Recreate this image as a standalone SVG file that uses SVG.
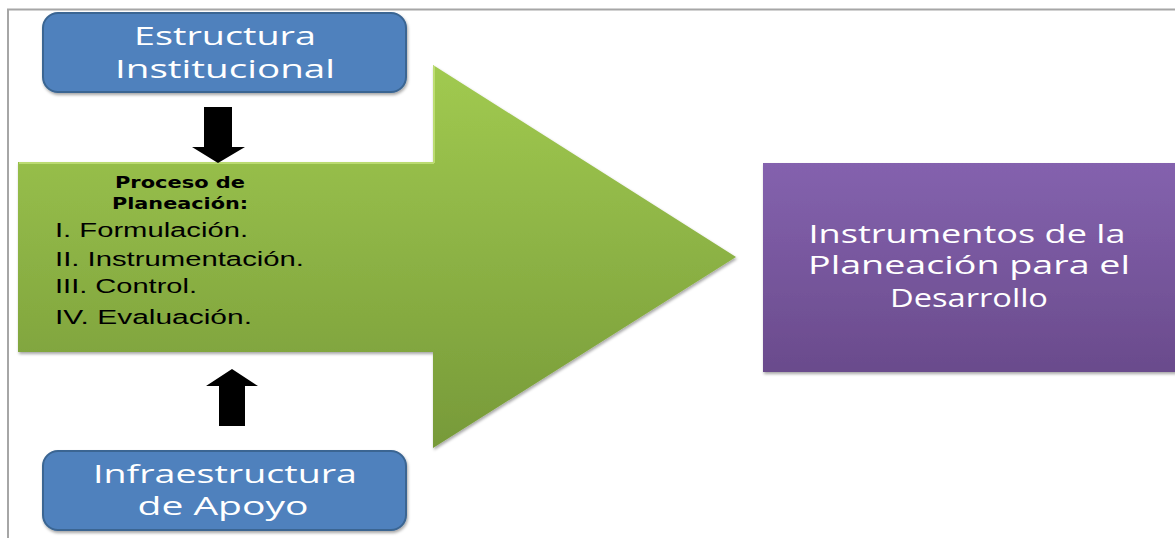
<svg xmlns="http://www.w3.org/2000/svg" width="1175" height="538" viewBox="0 0 1175 538">
<style>
.blue{fill:#4f81bd;stroke:#3a6592;stroke-width:2}
.wt{font-family:"Open Sans","Liberation Sans",sans-serif;fill:#ffffff;font-size:25.5px;text-anchor:middle}
.bt{font-family:"DejaVu Sans","Liberation Sans",sans-serif;font-weight:bold;fill:#000;font-size:16px;text-anchor:middle}
.lt{font-family:"Liberation Sans",Arial,sans-serif;fill:#000;font-size:20px}
.blk{fill:#000}
</style>
<defs>
<linearGradient id="gG" gradientUnits="userSpaceOnUse" x1="0" y1="65" x2="0" y2="447">
<stop offset="0" stop-color="#a1ca50"/>
<stop offset="1" stop-color="#779a39"/>
</linearGradient>
<linearGradient id="gP" gradientUnits="userSpaceOnUse" x1="0" y1="163" x2="0" y2="372">
<stop offset="0" stop-color="#8462ae"/>
<stop offset="1" stop-color="#6a4b8c"/>
</linearGradient>
<filter id="sh" x="-5%" y="-5%" width="115%" height="120%">
<feDropShadow dx="1" dy="2" stdDeviation="1.5" flood-color="#000" flood-opacity="0.35"/>
</filter>
</defs>
<rect width="1175" height="538" fill="#fff"/>
<path d="M8 538 V9.5 H1175" fill="none" stroke="#a6a6a6" stroke-width="2"/>

<g id="green-arrow">
<path d="M18 162 H433 V65 L736 257 L433 448 V352 H18 Z" fill="url(#gG)" filter="url(#sh)"/>
<path d="M19 163 H434 M434 66 V163" fill="none" stroke="#c4e27c" stroke-width="2" opacity="0.8"/>
<text class="bt" x="180" y="188" textLength="130" lengthAdjust="spacingAndGlyphs">Proceso de</text>
<text class="bt" x="180" y="209" textLength="136" lengthAdjust="spacingAndGlyphs">Planeación:</text>
<text class="lt" x="55" y="237" textLength="193" lengthAdjust="spacingAndGlyphs">I. Formulación.</text>
<text class="lt" x="55" y="266" textLength="249" lengthAdjust="spacingAndGlyphs">II. Instrumentación.</text>
<text class="lt" x="55" y="293" textLength="142" lengthAdjust="spacingAndGlyphs">III.  Control.</text>
<text class="lt" x="55" y="324" textLength="197" lengthAdjust="spacingAndGlyphs">IV. Evaluación.</text>
</g>

<g id="estructura">
<rect class="blue" x="43" y="13" width="363" height="79" rx="15" filter="url(#sh)"/>
<text class="wt" x="225" y="45" textLength="182" lengthAdjust="spacingAndGlyphs">Estructura</text>
<text class="wt" x="225" y="78" textLength="220" lengthAdjust="spacingAndGlyphs">Institucional</text>
</g>

<g id="infraestructura">
<rect class="blue" x="43" y="451" width="363" height="79" rx="15" filter="url(#sh)"/>
<text class="wt" x="225" y="483" textLength="264" lengthAdjust="spacingAndGlyphs">Infraestructura</text>
<text class="wt" x="223" y="515" textLength="171" lengthAdjust="spacingAndGlyphs">de Apoyo</text>
</g>

<g id="instrumentos">
<rect x="763" y="163" width="415" height="209" fill="url(#gP)" filter="url(#sh)"/>
<text class="wt" x="967" y="243" textLength="317" lengthAdjust="spacingAndGlyphs">Instrumentos de la</text>
<text class="wt" x="969" y="274" textLength="322" lengthAdjust="spacingAndGlyphs">Planeación para el</text>
<text class="wt" x="969" y="307" textLength="158" lengthAdjust="spacingAndGlyphs">Desarrollo</text>
</g>

<g id="connectors">
<path class="blk" d="M204 107 H232 V147 H245 L218 163 L192 147 H204 Z"/>
<path class="blk" d="M219 426 V386 H206 L232 369 L258 386 H245 V426 Z"/>
</g>
</svg>
